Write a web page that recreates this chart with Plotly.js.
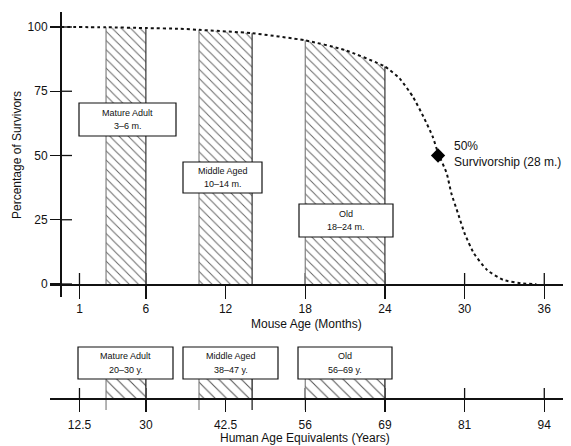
<!DOCTYPE html>
<html>
<head>
<meta charset="utf-8">
<script src="https://cdn.plot.ly/plotly-3.0.1.min.js"></script>
<style>html,body{margin:0;padding:0;background:#fff;}#chart{width:571px;height:446px;}</style>
</head>
<body>
<div id="chart"></div>
<script>
// ---- data ----
const months = [-0.4, 3, 6, 8.6, 10, 14, 18, 21, 24, 25.1, 26.1, 26.9, 27.6, 28, 28.65, 29, 29.5, 30, 30.7, 31.7, 32.9, 34.4, 35.4];
const survival = [100, 99.9, 99.6, 99.3, 98.9, 97.6, 94.8, 91, 84.6, 80, 72.9, 65.1, 57.3, 51, 43.1, 35.3, 27.5, 19.7, 11.9, 5.4, 1.6, 0.2, 0];
const mouseTicks = [1, 6, 12, 18, 24, 30, 36];
const humanTickText = ['12.5', '30', '42.5', '56', '69', '81', '94'];
const yTicks = [0, 25, 50, 75, 100];
const stageNames = ['Mature Adult', 'Middle Aged', 'Old'];
const mouseStart = [3, 10, 18];
const mouseEnd = [6, 14, 24];
const mouseRangeText = ['3–6 m.', '10–14 m.', '18–24 m.'];
const humanRangeText = ['20–30 y.', '38–47 y.', '56–69 y.'];
const medianAge = [28];
const medianPct = [50];
const medianLabel = '50%<br>Survivorship (28 m.)';

// ---- pixel helpers (layout only) ----
const W = 571, H = 446;
const px = v => v / W;
const py = v => 1 - v / H;
const FONT = 'Arial, "Liberation Sans", sans-serif';

const valAt = m => survival[months.indexOf(m)];

const traces = [];
// top hatched areas under the curve
stageNames.forEach((s, k) => {
  const a = mouseStart[k], b = mouseEnd[k];
  const xs = [a], ys = [0];
  months.forEach((m, i) => { if (m >= a && m <= b) { xs.push(m); ys.push(survival[i]); } });
  xs.push(b); ys.push(0);
  traces.push({
    type: 'scatter', x: xs, y: ys, mode: 'lines', fill: 'toself',
    fillcolor: 'white', line: {width: 0},
    fillpattern: {shape: '\\', bgcolor: 'white', fgcolor: '#666', size: 6.5, solidity: 0.15},
    hoverinfo: 'skip', showlegend: false, xaxis: 'x', yaxis: 'y'
  });
});
// top edges
const lx = [], ly = [], rx = [], ry = [];
stageNames.forEach((s, k) => {
  lx.push(mouseStart[k], mouseStart[k], null); ly.push(0, valAt(mouseStart[k]), null);
  rx.push(mouseEnd[k], mouseEnd[k], null); ry.push(0, valAt(mouseEnd[k]), null);
});
traces.push({type: 'scatter', x: lx, y: ly, mode: 'lines', line: {color: '#777', width: 1.1}, hoverinfo: 'skip', showlegend: false});
traces.push({type: 'scatter', x: rx, y: ry, mode: 'lines', line: {color: '#333', width: 1.2}, hoverinfo: 'skip', showlegend: false});
// survival curve
traces.push({
  type: 'scatter', x: months, y: survival, mode: 'lines',
  line: {color: '#111', width: 2, dash: '3px,3px', shape: 'spline', smoothing: 0.5},
  hoverinfo: 'skip', showlegend: false
});
// median marker
traces.push({
  type: 'scatter', x: medianAge, y: medianPct, mode: 'markers',
  marker: {symbol: 'diamond', size: 11, color: '#000'}, hoverinfo: 'skip', showlegend: false
});
// bottom hatched bars
traces.push({
  type: 'bar', x: mouseStart.map((a, k) => (a + mouseEnd[k]) / 2),
  width: mouseStart.map((a, k) => mouseEnd[k] - a),
  y: stageNames.map(() => 1), base: 0,
  marker: {color: 'white', line: {width: 0},
    pattern: {shape: '\\', bgcolor: 'white', fgcolor: '#555', size: 8, solidity: 0.13}},
  xaxis: 'x3', yaxis: 'y3', hoverinfo: 'skip', showlegend: false
});
const blx = [], bly = [], brx = [], bry = [];
stageNames.forEach((s, k) => {
  blx.push(mouseStart[k], mouseStart[k], null); bly.push(-0.63, 1, null);
  brx.push(mouseEnd[k], mouseEnd[k], null); bry.push(-0.63, 1, null);
});
traces.push({type: 'scatter', x: blx, y: bly, mode: 'lines', line: {color: '#777', width: 1.1}, xaxis: 'x3', yaxis: 'y3', hoverinfo: 'skip', showlegend: false, cliponaxis: false});
traces.push({type: 'scatter', x: brx, y: bry, mode: 'lines', line: {color: '#222', width: 1.3}, xaxis: 'x3', yaxis: 'y3', hoverinfo: 'skip', showlegend: false, cliponaxis: false});

// axes geometry
const xRange = [(50 - 66.2) / 13.28, (563 - 66.2) / 13.28];
const yScale = 2.57, y0px = 284;
const yRange = [(y0px - 297) / yScale, (y0px - 12) / yScale];
const bScale = 19, b0px = 398;
const bRange = [(b0px - 425) / bScale, (b0px - 335) / bScale];

const axCommon = {showgrid: false, zeroline: false, showline: true, linecolor: '#111', linewidth: 1.5,
  tickcolor: '#111', tickwidth: 1.3, tickfont: {family: FONT, size: 12, color: '#111'}, fixedrange: true};

const shapes = [];
mouseTicks.forEach(t => {
  shapes.push({type: 'line', layer: 'below', xref: 'x', yref: 'paper', x0: t, x1: t, y0: py(284), y1: py(273), line: {color: '#111', width: 1.3}});
  shapes.push({type: 'line', layer: 'below', xref: 'x3', yref: 'paper', x0: t, x1: t, y0: py(398), y1: py(388), line: {color: '#111', width: 1.3}});
});
yTicks.forEach(t => {
  shapes.push({type: 'line', layer: 'below', xref: 'paper', yref: 'y', x0: px(60), x1: px(72), y0: t, y1: t, line: {color: '#111', width: 1.3}});
});

const annotations = [];
// box geometry: [left, top, right, bottom] in px
const topBoxes = [[79, 103, 176, 136], [183, 162, 262, 193], [299, 204, 393, 237]];
const botBoxes = [[78, 347, 173, 379], [183, 347, 278, 379], [298, 347, 392, 379]];
const labelFont = {family: FONT, size: 9, color: '#111'};
function addBox(b, l1, l2) {
  shapes.push({type: 'rect', layer: 'above', xref: 'paper', yref: 'paper', x0: px(b[0]), x1: px(b[2]), y0: py(b[3]), y1: py(b[1]),
    fillcolor: 'white', line: {color: '#111', width: 1.2}});
  const cx = (b[0] + b[2]) / 2, cy = (b[1] + b[3]) / 2;
  annotations.push({xref: 'paper', yref: 'paper', x: px(cx), y: py(cy - 6.7), xanchor: 'center', yanchor: 'middle',
    text: l1, showarrow: false, font: labelFont});
  annotations.push({xref: 'paper', yref: 'paper', x: px(cx), y: py(cy + 6.7), xanchor: 'center', yanchor: 'middle',
    text: l2, showarrow: false, font: labelFont});
}
stageNames.forEach((s, k) => {
  addBox(topBoxes[k], s, mouseRangeText[k]);
  addBox(botBoxes[k], s, humanRangeText[k]);
});
annotations.push({xref: 'paper', yref: 'paper', x: px(452), y: py(153.5), xanchor: 'left', yanchor: 'middle', align: 'left',
  text: medianLabel, showarrow: false, font: {family: FONT, size: 12, color: '#111'}});
annotations.push({xref: 'paper', yref: 'paper', x: px(17), y: py(155), xanchor: 'center', yanchor: 'middle', textangle: -90,
  text: 'Percentage of Survivors', showarrow: false, font: {family: FONT, size: 12, color: '#111'}});
annotations.push({xref: 'paper', yref: 'paper', x: px(306), y: py(324), xanchor: 'center', yanchor: 'middle',
  text: 'Mouse Age (Months)', showarrow: false, font: {family: FONT, size: 12, color: '#111'}});
annotations.push({xref: 'paper', yref: 'paper', x: px(305), y: py(438), xanchor: 'center', yanchor: 'middle',
  text: 'Human Age Equivalents (Years)', showarrow: false, font: {family: FONT, size: 12, color: '#111'}});

const layout = {
  width: W, height: H, margin: {l: 0, r: 0, t: 0, b: 0},
  paper_bgcolor: 'white', plot_bgcolor: 'rgba(0,0,0,0)', showlegend: false,
  font: {family: FONT, color: '#111'},
  xaxis: Object.assign({}, axCommon, {domain: [px(50), px(563)], range: xRange, anchor: 'free', position: py(284),
    ticks: 'outside', ticklen: 13, tickvals: mouseTicks, ticktext: mouseTicks.map(String)}),
  yaxis: Object.assign({}, axCommon, {domain: [py(297), py(12)], range: yRange, anchor: 'free', position: px(60),
    ticks: 'outside', ticklen: 10, tickvals: yTicks, ticktext: yTicks.map(String)}),
  xaxis3: Object.assign({}, axCommon, {domain: [px(50), px(563)], range: xRange, anchor: 'free', position: py(398),
    ticks: 'outside', ticklen: 12, tickvals: mouseTicks, ticktext: humanTickText, ticklabelstandoff: 3}),
  yaxis3: {domain: [py(425), py(335)], range: bRange, visible: false, anchor: 'x3', fixedrange: true},
  shapes: shapes, annotations: annotations, bargap: 0
};

Plotly.newPlot('chart', traces, layout, {displayModeBar: false, staticPlot: true});
</script>
</body>
</html>
